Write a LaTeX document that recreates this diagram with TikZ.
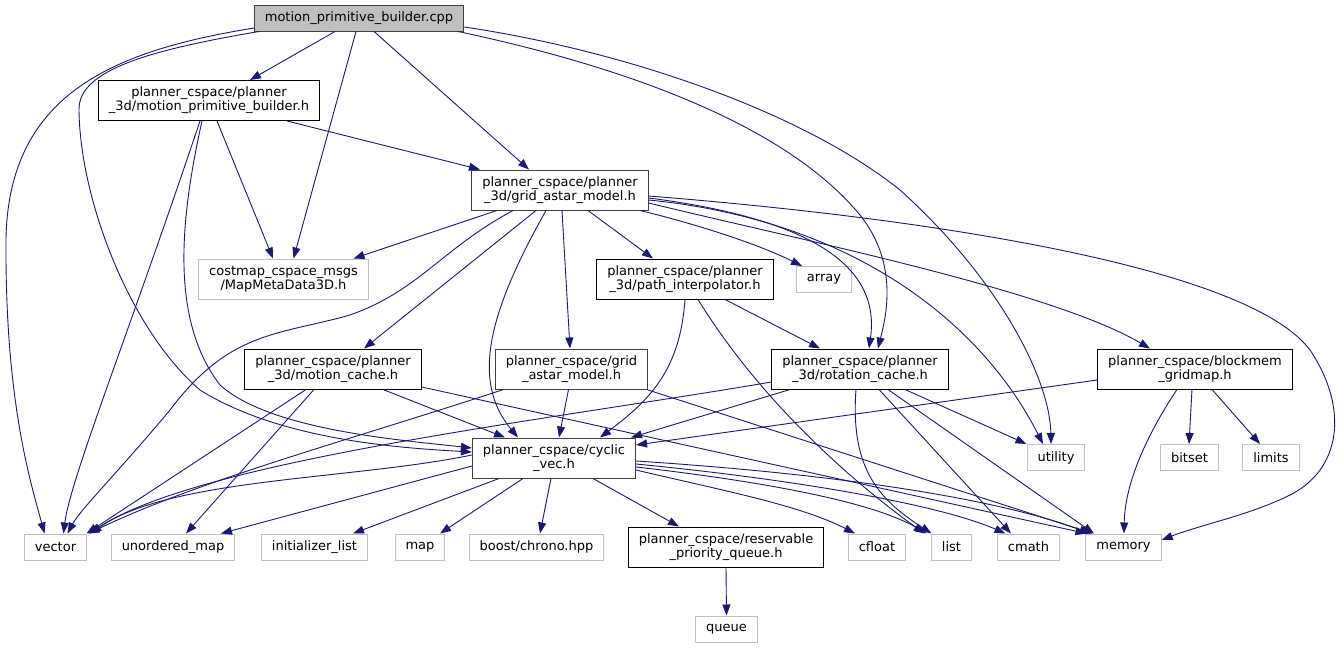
\documentclass[tikz,border=0pt]{standalone}
\usepackage{fontspec}
\setmainfont{DejaVu Sans}
\usetikzlibrary{arrows.meta}
\definecolor{incl}{RGB}{25,25,112}
\tikzset{
  hdr/.style={draw=black, line width=1pt, fill=white, inner xsep=10.5pt, inner ysep=2pt,
    minimum height=26pt, align=center, font=\fontsize{13pt}{14pt}\selectfont},
  hdrdark/.style={hdr, draw=black!75},
  sys/.style={hdr, draw=black!25},
  dbl/.style={minimum height=40pt},
  inc/.style={draw=incl, line width=0.9pt, -{Triangle[length=11pt,width=8pt]}}
}

\begin{document}
\begin{tikzpicture}[x=1pt, y=-1pt]
			%%%%% START %%%%%
			\useasboundingbox (0, 0) rectangle (1344, 648);

			% top file
			\node[hdr, draw=black!75, fill=black!25] (cpp) at (359, 18) {motion\_primitive\_builder.cpp};

			% project headers
			\node[hdr, dbl] (mpb) at (209, 100.5) {planner\_cspace/planner\\\_3d/motion\_primitive\_builder.h};
			\node[hdrdark, dbl] (gam3d) at (560, 190) {planner\_cspace/planner\\\_3d/grid\_astar\_model.h};
			\node[sys, dbl] (costmap) at (283.5, 279) {costmap\_cspace\_msgs\\/MapMetaData3D.h};
			\node[hdr, dbl] (pathi) at (685, 279) {planner\_cspace/planner\\\_3d/path\_interpolator.h};
			\node[sys] (array) at (824, 279.5) {array};
			\node[hdr, dbl] (mcache) at (333, 369) {planner\_cspace/planner\\\_3d/motion\_cache.h};
			\node[hdrdark, dbl] (grid) at (571.5, 369) {planner\_cspace/grid\\\_astar\_model.h};
			\node[hdr, dbl] (rcache) at (860, 369) {planner\_cspace/planner\\\_3d/rotation\_cache.h};
			\node[hdr, dbl] (blockmem) at (1195, 369) {planner\_cspace/blockmem\\\_gridmap.h};
			\node[hdrdark, dbl] (cvec) at (554, 458) {planner\_cspace/cyclic\\\_vec.h};
			\node[hdr, dbl] (rpq) at (726, 547) {planner\_cspace/reservable\\\_priority\_queue.h};

			% system headers
			\node[sys] (utility) at (1056, 457.5) {utility};
			\node[sys] (bitset) at (1189.5, 457.5) {bitset};
			\node[sys] (limits) at (1271, 457.5) {limits};
			\node[sys] (vector) at (55.5, 547) {vector};
			\node[sys] (umap) at (173, 547) {unordered\_map};
			\node[sys] (initl) at (314.5, 547) {initializer\_list};
			\node[sys] (map) at (420, 547) {map};
			\node[sys] (boost) at (536.5, 547) {boost/chrono.hpp};
			\node[sys] (cfloat) at (877, 547) {cfloat};
			\node[sys] (list) at (951.5, 547) {list};
			\node[sys] (cmath) at (1028.5, 547) {cmath};
			\node[sys] (memory) at (1123.5, 547) {memory};
			\node[sys] (queue) at (726.5, 629) {queue};

			% from motion_primitive_builder.cpp
			\draw[inc] ([xshift=-24pt]cpp.south) -- ([xshift=41pt]mpb.north);
			\draw[inc] ([xshift=-3pt]cpp.south) -- ([xshift=10pt]costmap.north);
			\draw[inc] ([xshift=15pt]cpp.south) -- ([xshift=-31pt]gam3d.north);
			\draw[inc] ([yshift=-10pt]cpp.west) .. controls (120, 50) and (8, 90) .. (6, 240) .. controls (5, 400) and (30, 480) .. ([xshift=-11pt]vector.north);
			\draw[inc] ([xshift=-100pt]cpp.south) .. controls (150, 50) and (78, 70) .. (79, 110) .. controls (80, 200) and (130, 330) .. (200, 390) .. controls (280, 440) and (400, 448) .. ([yshift=6pt]cvec.west);
			\draw[inc] ([xshift=99pt]cpp.south) .. controls (640, 70) and (790, 130) .. (860, 215) .. controls (900, 265) and (885, 320) .. ([xshift=18pt]rcache.north);
			\draw[inc] ([yshift=-9pt]cpp.east) .. controls (620, 50) and (800, 110) .. (900, 190) .. controls (1000, 280) and (1050, 380) .. ([xshift=-5pt]utility.north);

			% from motion_primitive_builder.h
			\draw[inc] ([xshift=-9pt]mpb.south) .. controls (130, 330) and (70, 480) .. ([xshift=8pt]vector.north);
			\draw[inc] ([xshift=-7pt]mpb.south) .. controls (180, 220) and (170, 320) .. (220, 385) .. controls (270, 430) and (400, 440) .. ([yshift=10pt]cvec.west);
			\draw[inc] ([xshift=8pt]mpb.south) -- ([xshift=-10.5pt]costmap.north);
			\draw[inc] ([xshift=78pt]mpb.south) -- ([xshift=-80pt]gam3d.north);

			% from planner_3d/grid_astar_model.h
			\draw[inc] ([xshift=-63pt]gam3d.south) -- ([xshift=70pt]costmap.north);
			\draw[inc] ([xshift=-47pt]gam3d.south) .. controls (440, 250) and (420, 290) .. (350, 315) .. controls (280, 335) and (230, 330) .. (170, 410) .. controls (120, 470) and (80, 510) .. ([xshift=12pt]vector.north);
			\draw[inc] ([xshift=-24pt]gam3d.south) -- ([xshift=31pt]mcache.north);
			\draw[inc] ([xshift=-14pt]gam3d.south) .. controls (490, 310) and (470, 380) .. ([xshift=-36pt]cvec.north);
			\draw[inc] ([xshift=2pt]gam3d.south) -- ([xshift=-1.5pt]grid.north);
			\draw[inc] ([xshift=28pt]gam3d.south) -- ([xshift=-32pt]pathi.north);
			\draw[inc] ([xshift=80pt]gam3d.south) .. controls (700, 225) and (760, 245) .. ([xshift=-22pt]array.north);
			\draw[inc] ([yshift=-8pt]gam3d.east) .. controls (820, 220) and (880, 270) .. ([xshift=9pt]rcache.north);
			\draw[inc] ([yshift=-10pt]gam3d.east) .. controls (850, 220) and (980, 320) .. ([xshift=-13pt]utility.north);
			\draw[inc] ([yshift=-13pt]gam3d.east) .. controls (800, 240) and (1050, 290) .. ([xshift=-45pt]blockmem.north);
			\draw[inc] ([yshift=-6pt]gam3d.east) .. controls (950, 220) and (1250, 270) .. (1310, 350) .. controls (1350, 410) and (1340, 470) .. (1290, 495) .. controls (1250, 515) and (1200, 525) .. ([yshift=7pt]memory.east);

			% from path_interpolator.h
			\draw[inc] (pathi.south) .. controls (680, 370) and (650, 400) .. ([xshift=46pt]cvec.north);
			\draw[inc] ([xshift=13pt]pathi.south) .. controls (760, 400) and (850, 480) .. ([xshift=-27pt]list.north);
			\draw[inc] ([xshift=40pt]pathi.south) -- ([xshift=-40pt]rcache.north);

			% from motion_cache.h
			\draw[inc] ([xshift=-27pt]mcache.south) -- ([xshift=31pt]vector.north);
			\draw[inc] ([xshift=-19pt]mcache.south) -- ([xshift=13pt]umap.north);
			\draw[inc] ([xshift=50pt]mcache.south) -- ([xshift=-49pt]cvec.north);
			\draw[inc] ([yshift=-18pt]mcache.east) -- ([xshift=-37pt]memory.north);

			% from grid_astar_model.h
			\draw[inc] ([xshift=-68pt]grid.south) .. controls (350, 440) and (200, 480) .. ([xshift=33pt]vector.north);
			\draw[inc] ([xshift=-3pt]grid.south) -- ([xshift=5pt]cvec.north);
			\draw[inc] ([xshift=75pt]grid.south) -- ([xshift=-31pt]memory.north);

			% from rotation_cache.h
			\draw[inc] ([yshift=-13pt]rcache.west) .. controls (550, 420) and (200, 460) .. ([xshift=34pt]vector.north);
			\draw[inc] ([xshift=-70pt]rcache.south) -- ([xshift=77pt]cvec.north);
			\draw[inc] ([xshift=-4pt]rcache.south) .. controls (850, 470) and (880, 500) .. ([xshift=-20pt]list.north);
			\draw[inc] ([xshift=19pt]rcache.south) -- ([xshift=-17.5pt]cmath.north);
			\draw[inc] ([xshift=28pt]rcache.south) -- ([xshift=-29.5pt]memory.north);
			\draw[inc] ([xshift=45pt]rcache.south) -- ([xshift=-29.5pt]utility.north);

			% from blockmem_gridmap.h
			\draw[inc] ([yshift=-11pt]blockmem.west) -- ([yshift=13pt]cvec.east);
			\draw[inc] ([xshift=-18pt]blockmem.south) .. controls (1150, 430) and (1125, 480) .. ([xshift=0.5pt]memory.north);
			\draw[inc] ([xshift=-3pt]blockmem.south) -- ([xshift=-0.5pt]bitset.north);
			\draw[inc] ([xshift=17pt]blockmem.south) -- ([xshift=-11pt]limits.north);

			% from cyclic_vec.h
			\draw[inc] ([yshift=3pt]cvec.west) .. controls (350, 480) and (170, 478) .. ([xshift=35pt]vector.north);
			\draw[inc] ([yshift=-8pt]cvec.west) -- ([xshift=48pt]umap.north);
			\draw[inc] ([xshift=-55pt]cvec.south) -- ([xshift=38.5pt]initl.north);
			\draw[inc] ([xshift=-31pt]cvec.south) -- ([xshift=20pt]map.north);
			\draw[inc] ([xshift=-3pt]cvec.south) -- ([xshift=3.5pt]boost.north);
			\draw[inc] ([xshift=39pt]cvec.south) -- ([xshift=-47pt]rpq.north);
			\draw[inc] ([yshift=-12pt]cvec.east) .. controls (720, 490) and (800, 505) .. ([xshift=-22pt]cfloat.north);
			\draw[inc] ([yshift=-9pt]cvec.east) .. controls (750, 480) and (870, 500) .. ([xshift=-25pt]list.north);
			\draw[inc] ([yshift=-6pt]cvec.east) .. controls (800, 480) and (940, 505) .. ([xshift=-23pt]cmath.north);
			\draw[inc] ([yshift=-3pt]cvec.east) .. controls (850, 475) and (1000, 500) .. ([xshift=-33pt]memory.north);

			% from reservable_priority_queue.h
			\draw[inc] (rpq.south) -- (queue.north);

			%%%%% END %%%%%
\end{tikzpicture}
\end{document}
